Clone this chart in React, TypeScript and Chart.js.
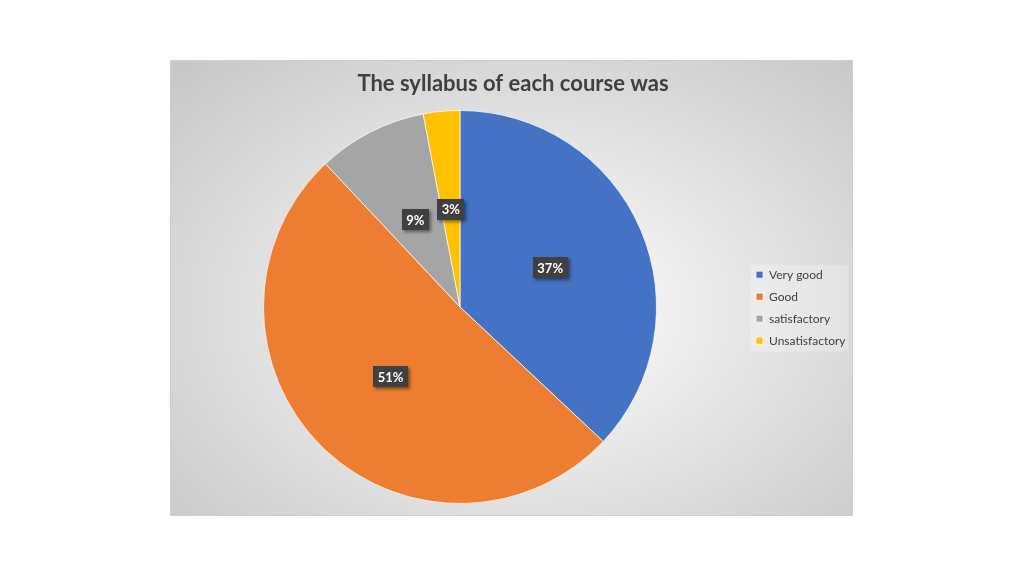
import React, { useEffect, useRef } from "react";
import { Chart, registerables } from "chart.js";

Chart.register(...registerables);

const titleText = "The syllabus of each course was";
const categories = ["Very good", "Good", "satisfactory", "Unsatisfactory"];
const shares = [37, 51, 9, 3];
const sliceColors = ["#4472C4", "#ED7D31", "#A5A5A5", "#FFC000"];

const FONT = "Lato, 'Open Sans', sans-serif";

const legendBackdrop = {
  id: "legendBackdrop",
  beforeDraw(chart: any) {
    const lg = chart.legend;
    if (!lg || !lg.legendHitBoxes || !lg.legendHitBoxes.length) return;
    const boxes = lg.legendHitBoxes;
    const first = boxes[0];
    const last = boxes[boxes.length - 1];
    const ctx = chart.ctx;
    ctx.save();
    ctx.fillStyle = "rgba(255,255,255,0.25)";
    ctx.fillRect(first.left - 5, first.top - 4, lg.right - first.left + 1, last.top + last.height - first.top + 9);
    ctx.restore();
  },
};

const pctLabels = {
  id: "pctLabels",
  afterDatasetsDraw(chart: any) {
    const ctx = chart.ctx;
    const meta = chart.getDatasetMeta(0);
    const data = chart.data.datasets[0].data as number[];
    const total = data.reduce((a, b) => a + b, 0);
    ctx.save();
    ctx.font = `bold 13px ${FONT}`;
    meta.data.forEach((arc: any, i: number) => {
      const pos = arc.tooltipPosition(false);
      const txt = Math.round((data[i] / total) * 100) + "%";
      const w = ctx.measureText(txt).width + 9;
      const h = 21;
      ctx.shadowColor = "rgba(0,0,0,0.45)";
      ctx.shadowBlur = 3;
      ctx.shadowOffsetX = 2;
      ctx.shadowOffsetY = 2;
      ctx.fillStyle = "#404040";
      ctx.fillRect(Math.round(pos.x - w / 2), Math.round(pos.y - h / 2), Math.round(w), h);
      ctx.shadowColor = "transparent";
      ctx.shadowBlur = 0;
      ctx.shadowOffsetX = 0;
      ctx.shadowOffsetY = 0;
      ctx.fillStyle = "#ffffff";
      ctx.textAlign = "center";
      ctx.textBaseline = "middle";
      ctx.fillText(txt, pos.x, pos.y + 1);
    });
    ctx.restore();
  },
};

export default function App() {
  const ref = useRef<HTMLCanvasElement | null>(null);

  useEffect(() => {
    if (!ref.current) return;
    const chart = new Chart(ref.current, {
      type: "pie",
      data: {
        labels: categories,
        datasets: [
          {
            data: shares,
            backgroundColor: sliceColors,
            borderColor: "rgba(255,255,255,0.7)",
            borderWidth: 1,
          },
        ],
      },
      options: {
        responsive: false,
        animation: false,
        layout: { padding: { left: 3, right: 0, top: 0, bottom: 11 } },
        plugins: {
          title: {
            display: true,
            text: titleText,
            color: "#404040",
            font: { family: FONT, size: 22, weight: "bold", lineHeight: 1.2 },
            padding: { top: 10, bottom: 12.6 },
          },
          legend: {
            position: "right",
            align: "center",
            maxWidth: 106,
            title: {
              display: true,
              text: " ",
              font: { family: FONT, size: 12, lineHeight: 1.2 },
              padding: { top: 18, bottom: 18 },
            },
            labels: {
              boxWidth: 7,
              boxHeight: 7,
              padding: 10,
              color: "#404040",
              font: { family: FONT, size: 12 },
            },
          },
          tooltip: { enabled: false },
        },
      },
      plugins: [legendBackdrop, pctLabels],
    });
    return () => chart.destroy();
  }, []);

  return (
    <div
      style={{
        position: "absolute",
        left: 0,
        top: 0,
        width: 1024,
        height: 576,
        background: "#ffffff",
      }}
    >
      <div
        style={{
          position: "absolute",
          left: 170,
          top: 60,
          width: 683,
          height: 456,
          boxSizing: "border-box",
          border: "1px solid #cfcfcf",
          background:
            "radial-gradient(ellipse farthest-corner at 52% 55%, #ffffff 0%, #f3f3f3 22%, #c6c6c6 100%)",
        }}
      >
        <canvas
          ref={ref}
          width={681}
          height={454}
          style={{ display: "block", width: 681, height: 454 }}
        />
      </div>
    </div>
  );
}
